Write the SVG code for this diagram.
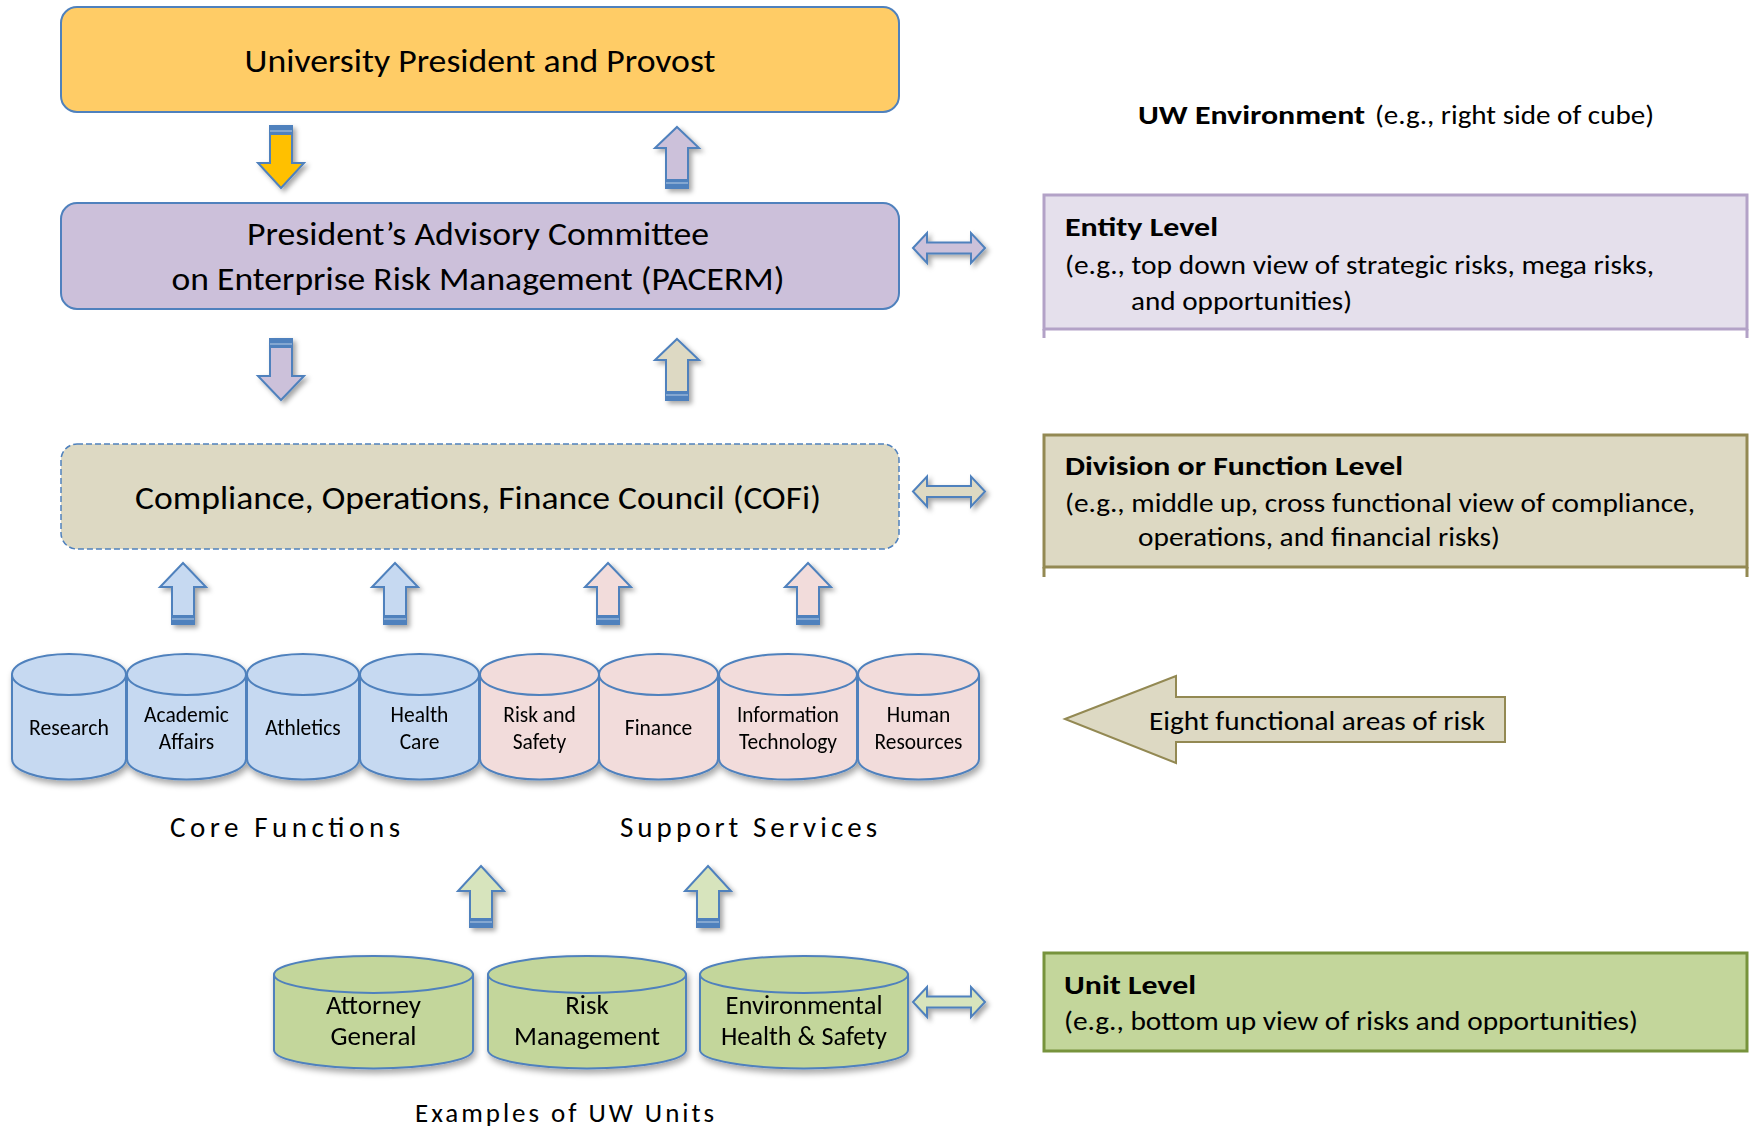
<svg xmlns="http://www.w3.org/2000/svg" width="1749" height="1130" viewBox="0 0 1749 1130">
<defs>
<filter id="sh" x="-20%" y="-20%" width="150%" height="150%">
<feDropShadow dx="2" dy="4" stdDeviation="3" flood-color="#000" flood-opacity="0.35"/>
</filter>
<filter id="ash" x="-30%" y="-30%" width="170%" height="170%">
<feDropShadow dx="3" dy="3" stdDeviation="2.5" flood-color="#000" flood-opacity="0.35"/>
</filter>
</defs>
<style>
text{font-family:Carlito,Calibri,Lato,"Liberation Sans",sans-serif;fill:#000}
.big{font-size:32px}
.mid{font-size:26.5px}
.b{font-weight:bold}
.cyl{font-size:21.5px}
.gcyl{font-size:27px}
.sp{font-size:27px}
.lab{font-size:29px}
.box{stroke:#4F81BD;stroke-width:2}
.arr{stroke:#4F81BD;stroke-width:2;filter:url(#ash)}
.bar{fill:#4F81BD}
.barl{stroke:#B9CDE5;stroke-width:1}
.cb{stroke:#4F81BD;stroke-width:2}
.blue{fill:#C6D9F1}
.pink{fill:#F2DCDB}
.green{fill:#C3D69B}
</style>
<rect width="1749" height="1130" fill="#fff"/>

<g id="president">
<rect class="box" x="61" y="7" width="838" height="105" rx="16" fill="#FFCC66"/>
<text class="big" x="480" y="72" text-anchor="middle" textLength="471" lengthAdjust="spacingAndGlyphs">University President and Provost</text>
</g>

<g id="pacerm">
<rect class="box" x="61" y="203" width="838" height="106" rx="16" fill="#CCC0DA"/>
<text class="big" x="478" y="245" text-anchor="middle" textLength="462" lengthAdjust="spacingAndGlyphs">President’s Advisory Committee</text>
<text class="big" x="478" y="290" text-anchor="middle" textLength="613" lengthAdjust="spacingAndGlyphs">on Enterprise Risk Management (PACERM)</text>
</g>

<g id="cofi">
<rect x="61" y="444" width="838" height="105" rx="16" fill="#DDD9C3" stroke="#4F81BD" stroke-width="1.5" stroke-dasharray="6 3"/>
<text class="big" x="478" y="509" text-anchor="middle" textLength="686" lengthAdjust="spacingAndGlyphs">Compliance, Operations, Finance Council (COFi)</text>
</g>

<g id="uw-environment">
<text class="mid b" x="1138" y="124" textLength="227" lengthAdjust="spacingAndGlyphs">UW Environment</text>
<text class="mid" x="1375" y="124" textLength="279" lengthAdjust="spacingAndGlyphs">(e.g., right side of cube)</text>
</g>

<g id="entity-level">
<path d="M1044,329 V338 M1747,329 V338" stroke="#B3A2C7" stroke-width="3" fill="none"/>
<rect x="1044" y="195" width="703" height="134" fill="#E5E0EC" stroke="#B3A2C7" stroke-width="3"/>
<text class="mid b" x="1065" y="236" textLength="153" lengthAdjust="spacingAndGlyphs">Entity Level</text>
<text class="mid" x="1065" y="274" textLength="589" lengthAdjust="spacingAndGlyphs">(e.g., top down view of strategic risks, mega risks,</text>
<text class="mid" x="1131" y="310" textLength="221" lengthAdjust="spacingAndGlyphs">and opportunities)</text>
</g>

<g id="division-level">
<path d="M1044,567 V577 M1747,567 V577" stroke="#938953" stroke-width="3" fill="none"/>
<rect x="1044" y="435" width="703" height="132" fill="#DDD9C3" stroke="#938953" stroke-width="3"/>
<text class="mid b" x="1065" y="475" textLength="338" lengthAdjust="spacingAndGlyphs">Division or Function Level</text>
<text class="mid" x="1065" y="512" textLength="630" lengthAdjust="spacingAndGlyphs">(e.g., middle up, cross functional view of compliance,</text>
<text class="mid" x="1138" y="546" textLength="362" lengthAdjust="spacingAndGlyphs">operations, and financial risks)</text>
</g>

<g id="unit-level">
<rect x="1044" y="953" width="703" height="98" fill="#C3D69B" stroke="#77933C" stroke-width="3"/>
<text class="mid b" x="1064" y="994" textLength="132" lengthAdjust="spacingAndGlyphs">Unit Level</text>
<text class="mid" x="1064" y="1030" textLength="574" lengthAdjust="spacingAndGlyphs">(e.g., bottom up view of risks and opportunities)</text>
</g>

<g id="eight-areas">
<path d="M1065,719 L1176,676 L1176,697 L1505,697 L1505,742 L1176,742 L1176,763 Z" fill="#DDD9C3" stroke="#938953" stroke-width="2"/>
<text class="sp" x="1149" y="730" textLength="336" lengthAdjust="spacingAndGlyphs">Eight functional areas of risk</text>
</g>

<g id="functions" filter="url(#sh)">
<g id="research">
<path class="cb blue" d="M12,674.5 V759 A57,20.5 0 0 0 126,759 V674.5 Z"/>
<ellipse class="cb blue" cx="69" cy="674.5" rx="57" ry="20.5"/>
<text class="cyl" x="69" y="735" text-anchor="middle" textLength="80" lengthAdjust="spacingAndGlyphs">Research</text>
</g>
<g id="academic-affairs">
<path class="cb blue" d="M127,674.5 V759 A59.5,20.5 0 0 0 246,759 V674.5 Z"/>
<ellipse class="cb blue" cx="186.5" cy="674.5" rx="59.5" ry="20.5"/>
<text class="cyl" x="186.5" y="722" text-anchor="middle">Academic</text>
<text class="cyl" x="186.5" y="749" text-anchor="middle">Affairs</text>
</g>
<g id="athletics">
<path class="cb blue" d="M247,674.5 V759 A56,20.5 0 0 0 359,759 V674.5 Z"/>
<ellipse class="cb blue" cx="303" cy="674.5" rx="56" ry="20.5"/>
<text class="cyl" x="303" y="735" text-anchor="middle">Athletics</text>
</g>
<g id="health-care">
<path class="cb blue" d="M360,674.5 V759 A59.5,20.5 0 0 0 479,759 V674.5 Z"/>
<ellipse class="cb blue" cx="419.5" cy="674.5" rx="59.5" ry="20.5"/>
<text class="cyl" x="419.5" y="722" text-anchor="middle">Health</text>
<text class="cyl" x="419.5" y="749" text-anchor="middle">Care</text>
</g>
<g id="risk-and-safety">
<path class="cb pink" d="M480,674.5 V759 A59.5,20.5 0 0 0 599,759 V674.5 Z"/>
<ellipse class="cb pink" cx="539.5" cy="674.5" rx="59.5" ry="20.5"/>
<text class="cyl" x="539.5" y="722" text-anchor="middle">Risk and</text>
<text class="cyl" x="539.5" y="749" text-anchor="middle">Safety</text>
</g>
<g id="finance">
<path class="cb pink" d="M599,674.5 V759 A59.5,20.5 0 0 0 718,759 V674.5 Z"/>
<ellipse class="cb pink" cx="658.5" cy="674.5" rx="59.5" ry="20.5"/>
<text class="cyl" x="658.5" y="735" text-anchor="middle">Finance</text>
</g>
<g id="information-technology">
<path class="cb pink" d="M719,674.5 V759 A69,20.5 0 0 0 857,759 V674.5 Z"/>
<ellipse class="cb pink" cx="788" cy="674.5" rx="69" ry="20.5"/>
<text class="cyl" x="788" y="722" text-anchor="middle" textLength="102" lengthAdjust="spacingAndGlyphs">Information</text>
<text class="cyl" x="788" y="749" text-anchor="middle" textLength="98" lengthAdjust="spacingAndGlyphs">Technology</text>
</g>
<g id="human-resources">
<path class="cb pink" d="M858,674.5 V759 A60.5,20.5 0 0 0 979,759 V674.5 Z"/>
<ellipse class="cb pink" cx="918.5" cy="674.5" rx="60.5" ry="20.5"/>
<text class="cyl" x="918.5" y="722" text-anchor="middle">Human</text>
<text class="cyl" x="918.5" y="749" text-anchor="middle" textLength="88" lengthAdjust="spacingAndGlyphs">Resources</text>
</g>
</g>

<g id="labels">
<text class="lab" x="170" y="837" textLength="230" lengthAdjust="spacing">Core Functions</text>
<text class="lab" x="620" y="837" textLength="257" lengthAdjust="spacing">Support Services</text>
<text style="font-size:27px" x="415" y="1122" textLength="299" lengthAdjust="spacing">Examples of UW Units</text>
</g>

<g id="units" filter="url(#sh)">
<g id="attorney-general">
<path class="cb green" d="M274,974.5 V1050 A99.5,18.5 0 0 0 473,1050 V974.5 Z"/>
<ellipse class="cb green" cx="373.5" cy="974.5" rx="99.5" ry="18.5"/>
<text class="gcyl" x="373.5" y="1014" text-anchor="middle">Attorney</text>
<text class="gcyl" x="373.5" y="1045" text-anchor="middle">General</text>
</g>
<g id="risk-management">
<path class="cb green" d="M488,974.5 V1050 A99,18.5 0 0 0 686,1050 V974.5 Z"/>
<ellipse class="cb green" cx="587" cy="974.5" rx="99" ry="18.5"/>
<text class="gcyl" x="587" y="1014" text-anchor="middle">Risk</text>
<text class="gcyl" x="587" y="1045" text-anchor="middle" textLength="146" lengthAdjust="spacingAndGlyphs">Management</text>
</g>
<g id="ehs">
<path class="cb green" d="M700,974.5 V1050 A104,18.5 0 0 0 908,1050 V974.5 Z"/>
<ellipse class="cb green" cx="804" cy="974.5" rx="104" ry="18.5"/>
<text class="gcyl" x="804" y="1014" text-anchor="middle" textLength="157" lengthAdjust="spacingAndGlyphs">Environmental</text>
<text class="gcyl" x="804" y="1045" text-anchor="middle" textLength="166" lengthAdjust="spacingAndGlyphs">Health &amp; Safety</text>
</g>
</g>

<g id="connectors">
<g>
<polygon class="arr" fill="#FFC000" points="270,126 292,126 292,163 304,163 281,188 258,163 270,163"/>
<rect class="bar" x="270" y="126" width="22" height="9"/><line class="barl" x1="270" y1="131" x2="292" y2="131"/>
</g>
<g>
<polygon class="arr" fill="#CCC1DA" points="270,339 292,339 292,376 304,376 281,400 258,376 270,376"/>
<rect class="bar" x="270" y="339" width="22" height="9"/><line class="barl" x1="270" y1="344" x2="292" y2="344"/>
</g>
<g>
<polygon class="arr" fill="#CCC1DA" points="677,127 699,148 688,148 688,188 666,188 666,148 655,148"/>
<rect class="bar" x="666" y="179" width="22" height="9"/><line class="barl" x1="666" y1="183" x2="688" y2="183"/>
</g>
<g>
<polygon class="arr" fill="#DDD9C3" points="677,339 699,360 688,360 688,400 666,400 666,360 655,360"/>
<rect class="bar" x="666" y="391" width="22" height="9"/><line class="barl" x1="666" y1="395" x2="688" y2="395"/>
</g>
<g>
<polygon class="arr" fill="#C6D9F1" points="183,563 206,587 194,587 194,624 172,624 172,587 160,587"/>
<rect class="bar" x="172" y="615" width="22" height="9"/><line class="barl" x1="172" y1="619" x2="194" y2="619"/>
</g>
<g>
<polygon class="arr" fill="#C6D9F1" points="395,563 418,587 406,587 406,624 384,624 384,587 372,587"/>
<rect class="bar" x="384" y="615" width="22" height="9"/><line class="barl" x1="384" y1="619" x2="406" y2="619"/>
</g>
<g>
<polygon class="arr" fill="#F2DCDB" points="608,563 631,587 619,587 619,624 597,624 597,587 585,587"/>
<rect class="bar" x="597" y="615" width="22" height="9"/><line class="barl" x1="597" y1="619" x2="619" y2="619"/>
</g>
<g>
<polygon class="arr" fill="#F2DCDB" points="808,563 831,587 819,587 819,624 797,624 797,587 785,587"/>
<rect class="bar" x="797" y="615" width="22" height="9"/><line class="barl" x1="797" y1="619" x2="819" y2="619"/>
</g>
<g>
<polygon class="arr" fill="#D7E4BD" points="481,866 504,891 492,891 492,927 470,927 470,891 458,891"/>
<rect class="bar" x="470" y="918" width="22" height="9"/><line class="barl" x1="470" y1="922" x2="492" y2="922"/>
</g>
<g>
<polygon class="arr" fill="#D7E4BD" points="708,866 731,891 719,891 719,927 697,927 697,891 685,891"/>
<rect class="bar" x="697" y="918" width="22" height="9"/><line class="barl" x1="697" y1="922" x2="719" y2="922"/>
</g>
<path class="arr" fill="#CCC1DA" d="M913,248 L927,233 L927,242.5 L971,242.5 L971,233 L985,248 L971,263 L971,253.5 L927,253.5 L927,263 Z"/>
<path class="arr" fill="#DDD9C3" d="M913,491.5 L927,476.5 L927,486 L971,486 L971,476.5 L985,491.5 L971,506.5 L971,497 L927,497 L927,506.5 Z"/>
<path class="arr" fill="#D7E4BD" d="M913,1002 L927,987 L927,996.5 L971,996.5 L971,987 L985,1002 L971,1017 L971,1007.5 L927,1007.5 L927,1017 Z"/>
</g>
</svg>
